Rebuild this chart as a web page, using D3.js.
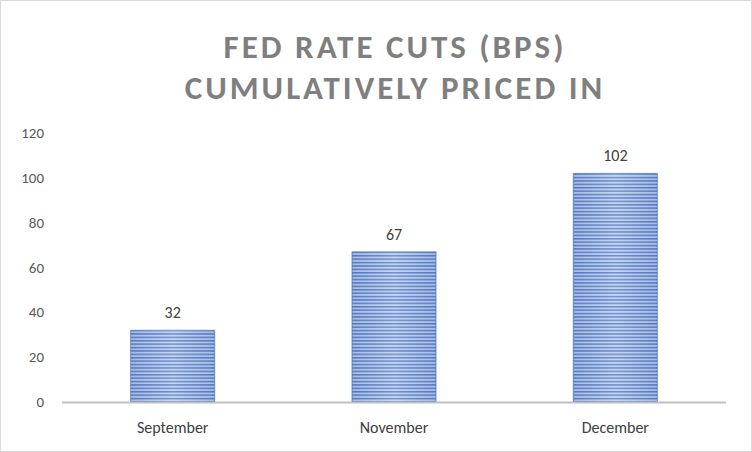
<!DOCTYPE html>
<html><head><meta charset="utf-8">
<script src="https://cdn.jsdelivr.net/npm/d3@7"></script>
<style>body{margin:0;background:#fff}text{font-family:Calibri,"Open Sans",Carlito,sans-serif}</style>
</head><body><svg id="c" width="752" height="452"></svg>
<script>
var months = ["September", "November", "December"];
var cuts = [32, 67, 102];
var yTicks = [0, 20, 40, 60, 80, 100, 120];

var svg = d3.select("#c");
svg.append("rect").attr("x",0.5).attr("y",0.5).attr("width",751).attr("height",451)
  .attr("fill","#fff").attr("stroke","#d9d9d9");

var defs = svg.append("defs");
var g = defs.append("linearGradient").attr("id","hg");
g.append("stop").attr("offset","0%").attr("stop-color","#5b7fc4");
g.append("stop").attr("offset","50%").attr("stop-color","#a9c0ea");
g.append("stop").attr("offset","100%").attr("stop-color","#5b7fc4");
var p = defs.append("pattern").attr("id","stripes").attr("patternUnits","userSpaceOnUse")
  .attr("width",4).attr("height",3.4);
p.append("rect").attr("width",4).attr("height",3.4).attr("fill","#dbe5f7");
p.append("rect").attr("width",4).attr("height",1.5).attr("fill","#4a72bd");

var title = svg.append("text").attr("text-anchor","middle").attr("fill","#7f7f7f")
  .attr("font-size",33).attr("font-weight","bold").attr("letter-spacing",3);
title.append("tspan").attr("x",395).attr("y",58).text("FED RATE CUTS (BPS)");
title.append("tspan").attr("x",395).attr("y",99).text("CUMULATIVELY PRICED IN");

var x = d3.scaleBand().domain(months).range([62,726]).paddingInner(0.62).paddingOuter(0.31);
var y = d3.scaleLinear().domain([0,120]).range([402,133]);

svg.selectAll(".yl").data(yTicks).join("text").attr("x",44).attr("y",d=>y(d)+5)
  .attr("text-anchor","end").attr("font-size",15).attr("fill","#595959").text(d=>d);

var bars = svg.selectAll(".bar").data(cuts).join("g");
bars.append("rect").attr("x",(d,i)=>x(months[i])).attr("y",d=>y(d))
  .attr("width",x.bandwidth()).attr("height",d=>y(0)-y(d)).attr("fill","url(#hg)");
bars.append("rect").attr("x",(d,i)=>x(months[i])).attr("y",d=>y(d))
  .attr("width",x.bandwidth()).attr("height",d=>y(0)-y(d)).attr("fill","url(#stripes)")
  .attr("opacity",0.6).attr("stroke","#4a72bd").attr("stroke-width",1);
bars.append("text").attr("x",(d,i)=>x(months[i])+x.bandwidth()/2).attr("y",d=>y(d)-12)
  .attr("text-anchor","middle").attr("font-size",16).attr("fill","#404040").text(d=>d);

svg.append("line").attr("x1",62).attr("x2",726).attr("y1",y(0)+0.5).attr("y2",y(0)+0.5)
  .attr("stroke","#bfbfbf").attr("stroke-width",2);
svg.selectAll(".xl").data(months).join("text").attr("x",d=>x(d)+x.bandwidth()/2).attr("y",433)
  .attr("text-anchor","middle").attr("font-size",16).attr("fill","#404040").text(d=>d);
</script></body></html>
